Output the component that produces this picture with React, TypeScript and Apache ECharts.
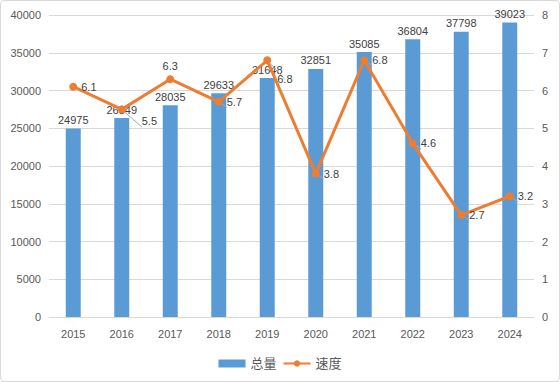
import React, { useEffect, useRef } from "react";
import * as echarts from "echarts";

const years = ["2015", "2016", "2017", "2018", "2019", "2020", "2021", "2022", "2023", "2024"];
const totals = [24975, 26349, 28035, 29633, 31648, 32851, 35085, 36804, 37798, 39023];
const speeds = [6.1, 5.5, 6.3, 5.7, 6.8, 3.8, 6.8, 4.6, 2.7, 3.2];
const speedLabelPos = ["right", "right", "top", "right", "right", "right", "right", "right", "right", "right"];
const speedLabelOffset = [[0, 0], [12, 12], [0, 0], [0, 0], [2, 19], [0, 0], [0, 0], [0, 0], [0, 0], [0, 0]];

const FONT = "'Liberation Sans', 'Noto Sans CJK SC', sans-serif";
const TXT = "#595959";

export default function App() {
  const ref = useRef<HTMLDivElement>(null);
  useEffect(() => {
    if (!ref.current) return;
    const chart = echarts.init(ref.current, null, { renderer: "svg" });
    chart.setOption({
      animation: false,
      textStyle: { fontFamily: FONT },
      grid: { left: 48, right: 25, top: 14, bottom: 64, containLabel: false },
      legend: {
        top: 351,
        left: "center",
        itemGap: 6,
        textStyle: { color: TXT, fontSize: 13, fontFamily: FONT },
        data: [
          { name: "总量", icon: "rect", itemStyle: { color: "#5B9BD5" } },
          { name: "速度" },
        ],
        itemWidth: 27,
        itemHeight: 8,
      },
      xAxis: {
        type: "category",
        data: years,
        axisLine: { lineStyle: { color: "#d9d9d9" } },
        axisTick: { show: false },
        axisLabel: { color: TXT, fontSize: 11, margin: 11 },
      },
      yAxis: [
        {
          type: "value",
          min: 0,
          max: 40000,
          interval: 5000,
          axisLabel: { color: TXT, fontSize: 11, margin: 8, formatter: (v: number) => String(v) },
          splitLine: { lineStyle: { color: "#d9d9d9" } },
          axisLine: { show: false },
          axisTick: { show: false },
        },
        {
          type: "value",
          min: 0,
          max: 8,
          interval: 1,
          position: "right",
          axisLabel: { color: TXT, fontSize: 11, margin: 8 },
          splitLine: { show: false },
          axisLine: { show: false },
          axisTick: { show: false },
        },
      ],
      series: [
        {
          name: "总量",
          type: "bar",
          data: totals,
          barWidth: 15,
          itemStyle: { color: "#5B9BD5" },
          label: { show: true, position: "top", color: "#404040", fontSize: 11, distance: 3 },
        },
        {
          name: "速度",
          type: "line",
          yAxisIndex: 1,
          data: speeds.map((v, i) => ({
            value: v,
            label: { position: speedLabelPos[i], offset: speedLabelOffset[i] },
          })),
          symbol: "circle",
          symbolSize: 8,
          lineStyle: { color: "#ED7D31", width: 3 },
          itemStyle: { color: "#ED7D31" },
          label: { show: true, color: "#404040", fontSize: 11, distance: 4 },
          labelLine: { show: true, lineStyle: { color: "#a6a6a6", width: 1 } },
          z: 5,
        },
      ],
    });
    return () => chart.dispose();
  }, []);
  return (
    <div
      style={{
        position: "absolute",
        left: 0,
        top: 0,
        width: 560,
        height: 382,
        background: "#fff",
        boxSizing: "border-box",
        border: "1px solid #d9d9d9",
        borderRadius: 4,
      }}
    >
      <div ref={ref} style={{ width: 558, height: 380 }} />
    </div>
  );
}
